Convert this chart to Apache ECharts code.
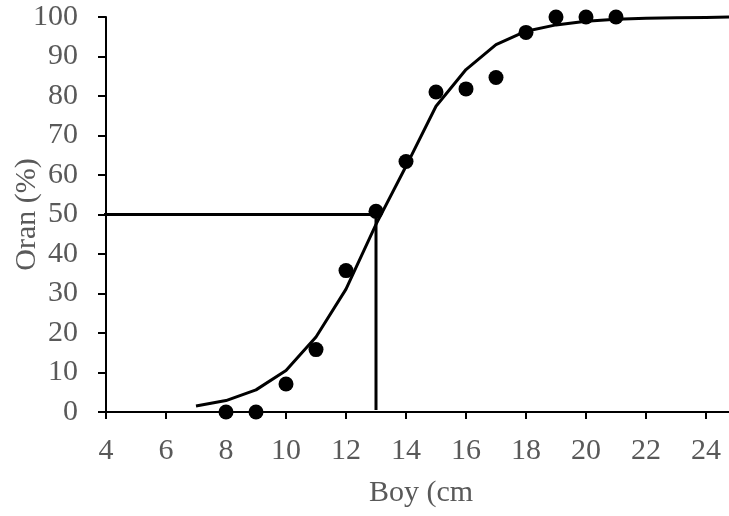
<!DOCTYPE html>
<html><head><meta charset="utf-8">
<script src="https://cdn.jsdelivr.net/npm/echarts@6/dist/echarts.min.js"></script>
<style>html,body{margin:0;padding:0;background:#fff}#c{width:729px;height:516px}</style>
</head><body><div id="c"></div>
<script>
var obsX = [8, 9, 10, 11, 12, 13, 14, 15, 16, 17, 18, 19, 20, 21];
var obsY = [0, 0, 7.1, 15.8, 35.8, 50.8, 63.4, 81.0, 81.8, 84.7, 96.1, 100, 100, 100];
var fitX = [7, 8, 9, 10, 11, 12, 13, 14, 15, 16, 17, 18, 19, 20, 21, 22, 23, 24, 25];
var fitY = [1.5, 2.9, 5.6, 10.5, 19.0, 31.1, 47.5, 62.2, 77.4, 86.7, 93.0, 96.4, 98.0, 98.9, 99.4, 99.7, 99.8, 99.9, 100];
var refX = [3.8, 13, 13];
var refY = [50, 50, 0.5];

var chart = echarts.init(document.getElementById('c'));
var font = "'Liberation Serif','Times New Roman',serif";
chart.setOption({
  animation: false,
  grid: {left: 106, top: 17, width: 630, height: 395, outerBoundsMode: 'none', containLabel: false},
  xAxis: {
    type: 'value', min: 4, max: 25, interval: 2,
    name: 'Boy (cm', nameLocation: 'middle', nameGap: 66, nameMoveOverlap: false,
    nameTextStyle: {fontFamily: font, fontSize: 30, color: '#595959'},
    axisLine: {lineStyle: {color: '#000', width: 2}},
    axisTick: {show: true, length: 7, lineStyle: {color: '#000', width: 2}},
    axisLabel: {fontFamily: font, fontSize: 30, color: '#595959', margin: 24,
      formatter: function (v) { return v > 24 ? '' : v; }},
    splitLine: {show: false}
  },
  yAxis: {
    type: 'value', min: 0, max: 100, interval: 10,
    name: 'Oran (%)', nameLocation: 'middle', nameGap: 64, nameRotate: 90, nameMoveOverlap: false,
    nameTextStyle: {fontFamily: font, fontSize: 30, color: '#595959'},
    axisLine: {show: true, lineStyle: {color: '#000', width: 2}},
    axisTick: {show: true, length: 8, lineStyle: {color: '#000', width: 2}},
    axisLabel: {fontFamily: font, fontSize: 30, color: '#595959', margin: 28},
    splitLine: {show: false}
  },
  series: [
    {type: 'line', data: fitX.map(function (x, i) { return [x, fitY[i]]; }),
     showSymbol: false, symbol: 'none', lineStyle: {color: '#000', width: 3}, clip: false, z: 2},
    {type: 'line', data: refX.map(function (x, i) { return [x, refY[i]]; }),
     showSymbol: false, symbol: 'none', lineStyle: {color: '#000', width: 3}, clip: false, z: 2},
    {type: 'scatter', data: obsX.map(function (x, i) { return [x, obsY[i]]; }),
     symbol: 'circle', symbolSize: 15, itemStyle: {color: '#000', opacity: 1}, clip: false, z: 3}
  ]
});
</script></body></html>
